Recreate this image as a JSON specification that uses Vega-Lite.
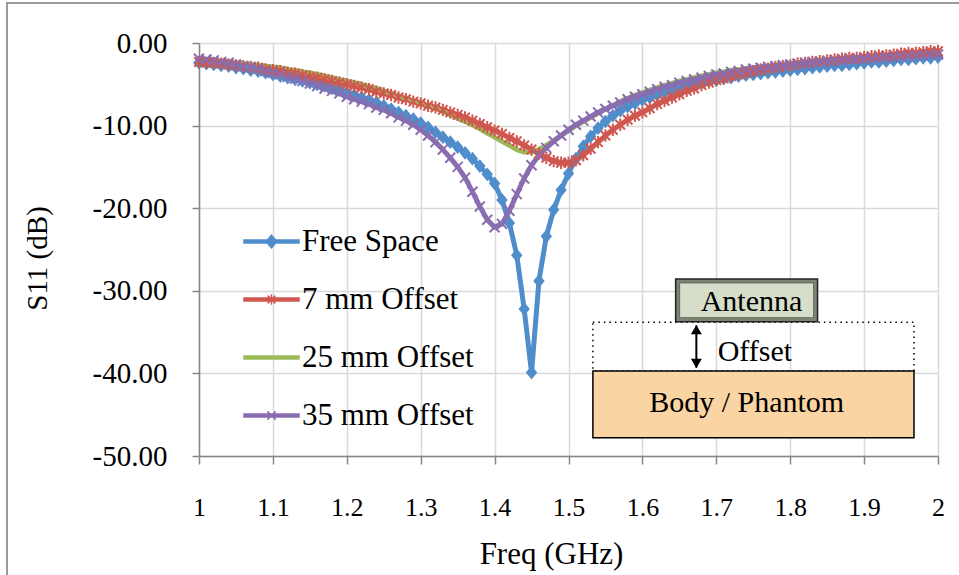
{
  "$schema": "https://vega.github.io/schema/vega-lite/v6.json",
  "width": 739,
  "height": 413,
  "autosize": "none",
  "padding": {"left": 199, "top": 43, "right": 21, "bottom": 119},
  "background": "white",
  "config": {"view": {"stroke": null}, "font": "Liberation Serif"},
  "layer": [
    {
      "data": {"values": [{"x1": 0.7402, "x2": 2.3, "y1": 4.84, "y2": -80}]},
      "mark": {"type": "rect", "fill": null, "stroke": "#9A9A9A", "strokeWidth": 2},
      "encoding": {
        "x": {"field": "x1", "type": "quantitative"},
        "x2": {"field": "x2"},
        "y": {"field": "y1", "type": "quantitative"},
        "y2": {"field": "y2"}
      }
    },
    {
      "data": {"values": [
        {"f":1.00,"Free Space":-2.4,"7 mm Offset":-2.3,"25 mm Offset":-1.9,"35 mm Offset":-1.9},
        {"f":1.01,"Free Space":-2.5,"7 mm Offset":-2.4,"25 mm Offset":-2.0,"35 mm Offset":-2.0},
        {"f":1.02,"Free Space":-2.6,"7 mm Offset":-2.4,"25 mm Offset":-2.1,"35 mm Offset":-2.1},
        {"f":1.03,"Free Space":-2.7,"7 mm Offset":-2.5,"25 mm Offset":-2.2,"35 mm Offset":-2.3},
        {"f":1.04,"Free Space":-2.8,"7 mm Offset":-2.6,"25 mm Offset":-2.3,"35 mm Offset":-2.4},
        {"f":1.05,"Free Space":-3.0,"7 mm Offset":-2.7,"25 mm Offset":-2.4,"35 mm Offset":-2.6},
        {"f":1.06,"Free Space":-3.1,"7 mm Offset":-2.8,"25 mm Offset":-2.5,"35 mm Offset":-2.8},
        {"f":1.07,"Free Space":-3.3,"7 mm Offset":-2.9,"25 mm Offset":-2.6,"35 mm Offset":-2.9},
        {"f":1.08,"Free Space":-3.4,"7 mm Offset":-3.0,"25 mm Offset":-2.7,"35 mm Offset":-3.1},
        {"f":1.09,"Free Space":-3.6,"7 mm Offset":-3.2,"25 mm Offset":-2.8,"35 mm Offset":-3.4},
        {"f":1.10,"Free Space":-3.8,"7 mm Offset":-3.3,"25 mm Offset":-2.9,"35 mm Offset":-3.6},
        {"f":1.11,"Free Space":-4.0,"7 mm Offset":-3.4,"25 mm Offset":-3.0,"35 mm Offset":-3.8},
        {"f":1.12,"Free Space":-4.2,"7 mm Offset":-3.6,"25 mm Offset":-3.2,"35 mm Offset":-4.1},
        {"f":1.13,"Free Space":-4.4,"7 mm Offset":-3.7,"25 mm Offset":-3.3,"35 mm Offset":-4.3},
        {"f":1.14,"Free Space":-4.6,"7 mm Offset":-3.9,"25 mm Offset":-3.5,"35 mm Offset":-4.6},
        {"f":1.15,"Free Space":-4.8,"7 mm Offset":-4.1,"25 mm Offset":-3.6,"35 mm Offset":-4.9},
        {"f":1.16,"Free Space":-5.0,"7 mm Offset":-4.2,"25 mm Offset":-3.8,"35 mm Offset":-5.2},
        {"f":1.17,"Free Space":-5.2,"7 mm Offset":-4.4,"25 mm Offset":-4.0,"35 mm Offset":-5.5},
        {"f":1.18,"Free Space":-5.5,"7 mm Offset":-4.6,"25 mm Offset":-4.2,"35 mm Offset":-5.8},
        {"f":1.19,"Free Space":-5.7,"7 mm Offset":-4.8,"25 mm Offset":-4.4,"35 mm Offset":-6.1},
        {"f":1.20,"Free Space":-6.0,"7 mm Offset":-5.0,"25 mm Offset":-4.6,"35 mm Offset":-6.5},
        {"f":1.21,"Free Space":-6.3,"7 mm Offset":-5.2,"25 mm Offset":-4.8,"35 mm Offset":-6.8},
        {"f":1.22,"Free Space":-6.6,"7 mm Offset":-5.4,"25 mm Offset":-5.0,"35 mm Offset":-7.1},
        {"f":1.23,"Free Space":-6.9,"7 mm Offset":-5.6,"25 mm Offset":-5.3,"35 mm Offset":-7.4},
        {"f":1.24,"Free Space":-7.2,"7 mm Offset":-5.9,"25 mm Offset":-5.5,"35 mm Offset":-7.8},
        {"f":1.25,"Free Space":-7.6,"7 mm Offset":-6.1,"25 mm Offset":-5.8,"35 mm Offset":-8.1},
        {"f":1.26,"Free Space":-8.0,"7 mm Offset":-6.3,"25 mm Offset":-6.1,"35 mm Offset":-8.5},
        {"f":1.27,"Free Space":-8.4,"7 mm Offset":-6.6,"25 mm Offset":-6.4,"35 mm Offset":-9.0},
        {"f":1.28,"Free Space":-8.8,"7 mm Offset":-6.8,"25 mm Offset":-6.7,"35 mm Offset":-9.4},
        {"f":1.29,"Free Space":-9.2,"7 mm Offset":-7.1,"25 mm Offset":-7.0,"35 mm Offset":-9.9},
        {"f":1.30,"Free Space":-9.7,"7 mm Offset":-7.3,"25 mm Offset":-7.3,"35 mm Offset":-10.5},
        {"f":1.31,"Free Space":-10.2,"7 mm Offset":-7.6,"25 mm Offset":-7.6,"35 mm Offset":-11.2},
        {"f":1.32,"Free Space":-10.8,"7 mm Offset":-7.8,"25 mm Offset":-7.9,"35 mm Offset":-12.0},
        {"f":1.33,"Free Space":-11.4,"7 mm Offset":-8.1,"25 mm Offset":-8.3,"35 mm Offset":-12.9},
        {"f":1.34,"Free Space":-12.0,"7 mm Offset":-8.4,"25 mm Offset":-8.7,"35 mm Offset":-13.9},
        {"f":1.35,"Free Space":-12.6,"7 mm Offset":-8.7,"25 mm Offset":-9.1,"35 mm Offset":-15.0},
        {"f":1.36,"Free Space":-13.3,"7 mm Offset":-9.0,"25 mm Offset":-9.5,"35 mm Offset":-16.3},
        {"f":1.37,"Free Space":-14.0,"7 mm Offset":-9.4,"25 mm Offset":-9.9,"35 mm Offset":-18.0},
        {"f":1.38,"Free Space":-14.9,"7 mm Offset":-9.8,"25 mm Offset":-10.4,"35 mm Offset":-19.8},
        {"f":1.39,"Free Space":-15.9,"7 mm Offset":-10.2,"25 mm Offset":-10.9,"35 mm Offset":-21.4},
        {"f":1.40,"Free Space":-17.0,"7 mm Offset":-10.6,"25 mm Offset":-11.4,"35 mm Offset":-22.3},
        {"f":1.41,"Free Space":-19.0,"7 mm Offset":-11.0,"25 mm Offset":-11.9,"35 mm Offset":-21.9},
        {"f":1.42,"Free Space":-21.8,"7 mm Offset":-11.5,"25 mm Offset":-12.4,"35 mm Offset":-20.3},
        {"f":1.43,"Free Space":-25.7,"7 mm Offset":-11.9,"25 mm Offset":-12.9,"35 mm Offset":-18.3},
        {"f":1.44,"Free Space":-32.2,"7 mm Offset":-12.4,"25 mm Offset":-13.2,"35 mm Offset":-16.4},
        {"f":1.45,"Free Space":-39.9,"7 mm Offset":-12.9,"25 mm Offset":-13.2,"35 mm Offset":-14.8},
        {"f":1.46,"Free Space":-28.8,"7 mm Offset":-13.4,"25 mm Offset":-12.9,"35 mm Offset":-13.6},
        {"f":1.47,"Free Space":-23.4,"7 mm Offset":-13.9,"25 mm Offset":-12.4,"35 mm Offset":-12.7},
        {"f":1.48,"Free Space":-20.2,"7 mm Offset":-14.3,"25 mm Offset":-11.8,"35 mm Offset":-11.9},
        {"f":1.49,"Free Space":-17.8,"7 mm Offset":-14.5,"25 mm Offset":-11.2,"35 mm Offset":-11.2},
        {"f":1.50,"Free Space":-15.8,"7 mm Offset":-14.5,"25 mm Offset":-10.6,"35 mm Offset":-10.5},
        {"f":1.51,"Free Space":-14.0,"7 mm Offset":-14.2,"25 mm Offset":-10.0,"35 mm Offset":-9.9},
        {"f":1.52,"Free Space":-12.5,"7 mm Offset":-13.6,"25 mm Offset":-9.5,"35 mm Offset":-9.4},
        {"f":1.53,"Free Space":-11.3,"7 mm Offset":-12.8,"25 mm Offset":-9.0,"35 mm Offset":-8.9},
        {"f":1.54,"Free Space":-10.3,"7 mm Offset":-12.0,"25 mm Offset":-8.5,"35 mm Offset":-8.4},
        {"f":1.55,"Free Space":-9.5,"7 mm Offset":-11.2,"25 mm Offset":-8.0,"35 mm Offset":-8.0},
        {"f":1.56,"Free Space":-8.8,"7 mm Offset":-10.5,"25 mm Offset":-7.6,"35 mm Offset":-7.6},
        {"f":1.57,"Free Space":-8.2,"7 mm Offset":-9.9,"25 mm Offset":-7.1,"35 mm Offset":-7.2},
        {"f":1.58,"Free Space":-7.7,"7 mm Offset":-9.3,"25 mm Offset":-6.7,"35 mm Offset":-6.8},
        {"f":1.59,"Free Space":-7.3,"7 mm Offset":-8.8,"25 mm Offset":-6.3,"35 mm Offset":-6.5},
        {"f":1.60,"Free Space":-6.9,"7 mm Offset":-8.4,"25 mm Offset":-6.0,"35 mm Offset":-6.2},
        {"f":1.61,"Free Space":-6.6,"7 mm Offset":-7.9,"25 mm Offset":-5.7,"35 mm Offset":-5.9},
        {"f":1.62,"Free Space":-6.3,"7 mm Offset":-7.4,"25 mm Offset":-5.4,"35 mm Offset":-5.6},
        {"f":1.63,"Free Space":-6.0,"7 mm Offset":-7.0,"25 mm Offset":-5.1,"35 mm Offset":-5.3},
        {"f":1.64,"Free Space":-5.7,"7 mm Offset":-6.6,"25 mm Offset":-4.9,"35 mm Offset":-5.1},
        {"f":1.65,"Free Space":-5.5,"7 mm Offset":-6.2,"25 mm Offset":-4.6,"35 mm Offset":-4.8},
        {"f":1.66,"Free Space":-5.2,"7 mm Offset":-5.8,"25 mm Offset":-4.4,"35 mm Offset":-4.6},
        {"f":1.67,"Free Space":-5.0,"7 mm Offset":-5.5,"25 mm Offset":-4.2,"35 mm Offset":-4.4},
        {"f":1.68,"Free Space":-4.8,"7 mm Offset":-5.1,"25 mm Offset":-4.0,"35 mm Offset":-4.2},
        {"f":1.69,"Free Space":-4.6,"7 mm Offset":-4.8,"25 mm Offset":-3.8,"35 mm Offset":-4.0},
        {"f":1.70,"Free Space":-4.5,"7 mm Offset":-4.5,"25 mm Offset":-3.6,"35 mm Offset":-3.8},
        {"f":1.71,"Free Space":-4.3,"7 mm Offset":-4.3,"25 mm Offset":-3.5,"35 mm Offset":-3.7},
        {"f":1.72,"Free Space":-4.2,"7 mm Offset":-4.0,"25 mm Offset":-3.3,"35 mm Offset":-3.5},
        {"f":1.73,"Free Space":-4.0,"7 mm Offset":-3.8,"25 mm Offset":-3.2,"35 mm Offset":-3.4},
        {"f":1.74,"Free Space":-3.9,"7 mm Offset":-3.6,"25 mm Offset":-3.1,"35 mm Offset":-3.2},
        {"f":1.75,"Free Space":-3.8,"7 mm Offset":-3.4,"25 mm Offset":-3.0,"35 mm Offset":-3.1},
        {"f":1.76,"Free Space":-3.7,"7 mm Offset":-3.2,"25 mm Offset":-2.9,"35 mm Offset":-3.0},
        {"f":1.77,"Free Space":-3.6,"7 mm Offset":-3.1,"25 mm Offset":-2.8,"35 mm Offset":-2.9},
        {"f":1.78,"Free Space":-3.5,"7 mm Offset":-2.9,"25 mm Offset":-2.7,"35 mm Offset":-2.8},
        {"f":1.79,"Free Space":-3.4,"7 mm Offset":-2.8,"25 mm Offset":-2.6,"35 mm Offset":-2.7},
        {"f":1.80,"Free Space":-3.3,"7 mm Offset":-2.7,"25 mm Offset":-2.5,"35 mm Offset":-2.6},
        {"f":1.81,"Free Space":-3.2,"7 mm Offset":-2.5,"25 mm Offset":-2.4,"35 mm Offset":-2.5},
        {"f":1.82,"Free Space":-3.1,"7 mm Offset":-2.4,"25 mm Offset":-2.3,"35 mm Offset":-2.4},
        {"f":1.83,"Free Space":-3.0,"7 mm Offset":-2.3,"25 mm Offset":-2.2,"35 mm Offset":-2.3},
        {"f":1.84,"Free Space":-2.9,"7 mm Offset":-2.2,"25 mm Offset":-2.2,"35 mm Offset":-2.3},
        {"f":1.85,"Free Space":-2.8,"7 mm Offset":-2.1,"25 mm Offset":-2.1,"35 mm Offset":-2.2},
        {"f":1.86,"Free Space":-2.7,"7 mm Offset":-2.0,"25 mm Offset":-2.0,"35 mm Offset":-2.1},
        {"f":1.87,"Free Space":-2.7,"7 mm Offset":-1.9,"25 mm Offset":-2.0,"35 mm Offset":-2.1},
        {"f":1.88,"Free Space":-2.6,"7 mm Offset":-1.8,"25 mm Offset":-1.9,"35 mm Offset":-2.0},
        {"f":1.89,"Free Space":-2.5,"7 mm Offset":-1.8,"25 mm Offset":-1.8,"35 mm Offset":-1.9},
        {"f":1.90,"Free Space":-2.4,"7 mm Offset":-1.7,"25 mm Offset":-1.8,"35 mm Offset":-1.9},
        {"f":1.91,"Free Space":-2.3,"7 mm Offset":-1.6,"25 mm Offset":-1.7,"35 mm Offset":-1.8},
        {"f":1.92,"Free Space":-2.3,"7 mm Offset":-1.5,"25 mm Offset":-1.7,"35 mm Offset":-1.8},
        {"f":1.93,"Free Space":-2.2,"7 mm Offset":-1.5,"25 mm Offset":-1.6,"35 mm Offset":-1.7},
        {"f":1.94,"Free Space":-2.1,"7 mm Offset":-1.4,"25 mm Offset":-1.6,"35 mm Offset":-1.7},
        {"f":1.95,"Free Space":-2.0,"7 mm Offset":-1.3,"25 mm Offset":-1.5,"35 mm Offset":-1.6},
        {"f":1.96,"Free Space":-2.0,"7 mm Offset":-1.2,"25 mm Offset":-1.5,"35 mm Offset":-1.6},
        {"f":1.97,"Free Space":-1.9,"7 mm Offset":-1.2,"25 mm Offset":-1.4,"35 mm Offset":-1.5},
        {"f":1.98,"Free Space":-1.8,"7 mm Offset":-1.1,"25 mm Offset":-1.4,"35 mm Offset":-1.5},
        {"f":1.99,"Free Space":-1.8,"7 mm Offset":-1.0,"25 mm Offset":-1.3,"35 mm Offset":-1.4},
        {"f":2.00,"Free Space":-1.7,"7 mm Offset":-1.0,"25 mm Offset":-1.3,"35 mm Offset":-1.4}
      ]},
      "transform": [{"fold": ["Free Space", "7 mm Offset", "25 mm Offset", "35 mm Offset"], "as": ["series", "s11"]}],
      "encoding": {
        "x": {
          "field": "f", "type": "quantitative",
          "scale": {"domain": [1, 2], "nice": false, "zero": false},
          "axis": {
            "values": [1, 1.1, 1.2, 1.3, 1.4, 1.5, 1.6, 1.7, 1.8, 1.9, 2],
            "labelExpr": "format(datum.value, '~g')",
            "title": "Freq (GHz)",
            "grid": true, "gridColor": "#D9D9D9", "gridWidth": 1.5,
            "domainColor": "#868686", "domainWidth": 1.5,
            "tickColor": "#868686", "tickWidth": 1.5, "tickSize": 8,
            "labelFont": "Liberation Serif", "labelFontSize": 26, "labelColor": "#000000",
            "labelPadding": 30, "labelFlush": false, "labelOverlap": false,
            "titleFont": "Liberation Serif", "titleFontSize": 31, "titleFontWeight": "normal", "titleColor": "#000000",
            "titleX": 352, "titleY": 98, "titleBaseline": "middle", "titleAlign": "center"
          }
        },
        "y": {
          "field": "s11", "type": "quantitative",
          "scale": {"domain": [-50, 0], "nice": false, "zero": false},
          "axis": {
            "values": [-50, -40, -30, -20, -10, 0],
            "labelExpr": "replace(format(datum.value, '.2f'), '\u2212', '-')",
            "title": "S11 (dB)",
            "grid": true, "gridColor": "#D9D9D9", "gridWidth": 1.5,
            "domainColor": "#868686", "domainWidth": 1.5,
            "tickColor": "#868686", "tickWidth": 1.5, "tickSize": 7,
            "labelFont": "Liberation Serif", "labelFontSize": 29, "labelColor": "#000000",
            "labelPadding": 25, "labelFlush": false, "labelOverlap": false,
            "titleFont": "Liberation Serif", "titleFontSize": 29, "titleFontWeight": "normal", "titleColor": "#000000",
            "titleX": -162, "titleY": 215, "titleBaseline": "middle", "titleAlign": "center", "titleAngle": 270
          }
        },
        "color": {
          "field": "series", "type": "nominal",
          "scale": {
            "domain": ["Free Space", "7 mm Offset", "25 mm Offset", "35 mm Offset"],
            "range": ["#4F8DCB", "#D0574F", "#9BBB59", "#8A6DB0"]
          },
          "legend": null
        }
      },
      "layer": [
        {
          "mark": {"type": "line", "strokeWidth": 5, "strokeJoin": "round", "strokeCap": "round"},
          "encoding": {
            "color": {
              "field": "series", "type": "nominal",
              "scale": {
                "domain": ["Free Space", "7 mm Offset", "25 mm Offset", "35 mm Offset"],
                "range": ["#4F8DCB", "#D0574F", "#9BBB59", "#8A6DB0"]
              },
              "legend": {
                "orient": "none", "legendX": 44, "legendY": 170,
                "title": null, "padding": 0,
                "symbolSize": 3025, "symbolStrokeWidth": 1.5, "symbolOffset": 0,
                "labelFont": "Liberation Serif", "labelFontSize": 31, "labelColor": "#000000",
                "labelOffset": 2, "rowPadding": 14, "labelLimit": 0,
                "encode": {
                  "symbols": {
                    "update": {
                      "shape": {"signal": "datum.value == 'Free Space' ? 'M-1,-0.055H1V0.055H-1ZM0,-0.23L0.2,0L0,0.23L-0.2,0Z' : datum.value == '7 mm Offset' ? 'M-1,-0.055H1V0.055H-1ZM-0.14,-0.14L0.14,0.14M-0.14,0.14L0.14,-0.14M0,-0.19V0.19' : datum.value == '35 mm Offset' ? 'M-1,-0.055H1V0.055H-1ZM-0.15,-0.15L0.15,0.15M-0.15,0.15L0.15,-0.15' : 'M-1,-0.055H1V0.055H-1Z'"},
                      "fill": {"scale": "color", "field": "value"},
                      "stroke": {"scale": "color", "field": "value"},
                      "strokeWidth": {"value": 1.5},
                      "opacity": {"value": 1}
                    }
                  }
                }
              }
            }
          }
        },
        {
          "transform": [{"filter": "datum.series == 'Free Space'"}],
          "mark": {"type": "point", "shape": "M0,-1.2L1,0L0,1.2L-1,0Z", "filled": true, "size": 130, "opacity": 1}
        },
        {
          "transform": [{"filter": "datum.series == '7 mm Offset'"}],
          "mark": {"type": "point", "shape": "M-1,-1L1,1M-1,1L1,-1M0,-1.3V1.3", "filled": false, "size": 90, "strokeWidth": 2, "opacity": 1}
        },
        {
          "transform": [{"filter": "datum.series == '35 mm Offset'"}],
          "mark": {"type": "point", "shape": "M-1,-1L1,1M-1,1L1,-1", "filled": false, "size": 100, "strokeWidth": 2, "opacity": 1}
        }
      ]
    },
    {
      "data": {"values": [{"x1": 1.533, "x2": 1.9675, "y1": -33.8, "y2": -39.7}]},
      "mark": {"type": "rect", "fill": null, "stroke": "#000000", "strokeWidth": 1.5, "strokeDash": [1.5, 4]},
      "encoding": {
        "x": {"field": "x1", "type": "quantitative"}, "x2": {"field": "x2"},
        "y": {"field": "y1", "type": "quantitative"}, "y2": {"field": "y2"}
      }
    },
    {
      "data": {"values": [{"x1": 1.533, "x2": 1.9675, "y1": -39.7, "y2": -47.8}]},
      "mark": {"type": "rect", "fill": "#FBD4A4", "stroke": "#000000", "strokeWidth": 1.5},
      "encoding": {
        "x": {"field": "x1", "type": "quantitative"}, "x2": {"field": "x2"},
        "y": {"field": "y1", "type": "quantitative"}, "y2": {"field": "y2"}
      }
    },
    {
      "data": {"values": [{"x1": 1.645, "x2": 1.837, "y1": -28.57, "y2": -33.74}]},
      "mark": {"type": "rect", "fill": "#7E8472", "stroke": "#222222", "strokeWidth": 1.5},
      "encoding": {
        "x": {"field": "x1", "type": "quantitative"}, "x2": {"field": "x2"},
        "y": {"field": "y1", "type": "quantitative"}, "y2": {"field": "y2"}
      }
    },
    {
      "data": {"values": [{"x1": 1.6504, "x2": 1.8316, "y1": -29.05, "y2": -33.25}]},
      "mark": {"type": "rect", "fill": "#D6DEC9", "stroke": "#555555", "strokeWidth": 0.8},
      "encoding": {
        "x": {"field": "x1", "type": "quantitative"}, "x2": {"field": "x2"},
        "y": {"field": "y1", "type": "quantitative"}, "y2": {"field": "y2"}
      }
    },
    {
      "data": {"values": [{"x": 1.673, "y1": -34.2, "y2": -39.3}]},
      "mark": {"type": "rule", "stroke": "#000000", "strokeWidth": 2},
      "encoding": {
        "x": {"field": "x", "type": "quantitative"},
        "y": {"field": "y1", "type": "quantitative"}, "y2": {"field": "y2"}
      }
    },
    {
      "data": {"values": [{"x": 1.673, "y": -34.7, "dir": "up"}, {"x": 1.673, "y": -38.8, "dir": "down"}]},
      "mark": {"type": "point", "filled": true, "size": 120, "color": "#000000", "opacity": 1},
      "encoding": {
        "x": {"field": "x", "type": "quantitative"},
        "y": {"field": "y", "type": "quantitative"},
        "shape": {"field": "dir", "type": "nominal", "scale": {"domain": ["up", "down"], "range": ["triangle-up", "triangle-down"]}, "legend": null}
      }
    },
    {
      "data": {"values": [
        {"x": 1.7476, "y": -31.3, "t": "Antenna"},
        {"x": 1.7411, "y": -43.6, "t": "Body / Phantom"}
      ]},
      "mark": {"type": "text", "font": "Liberation Serif", "fontSize": 30, "color": "#000000", "align": "center", "baseline": "middle"},
      "encoding": {
        "x": {"field": "x", "type": "quantitative"},
        "y": {"field": "y", "type": "quantitative"},
        "text": {"field": "t"}
      }
    },
    {
      "data": {"values": [{"x": 1.7019, "y": -37.4, "t": "Offset"}]},
      "mark": {"type": "text", "font": "Liberation Serif", "fontSize": 30, "color": "#000000", "align": "left", "baseline": "middle"},
      "encoding": {
        "x": {"field": "x", "type": "quantitative"},
        "y": {"field": "y", "type": "quantitative"},
        "text": {"field": "t"}
      }
    }
  ]
}
